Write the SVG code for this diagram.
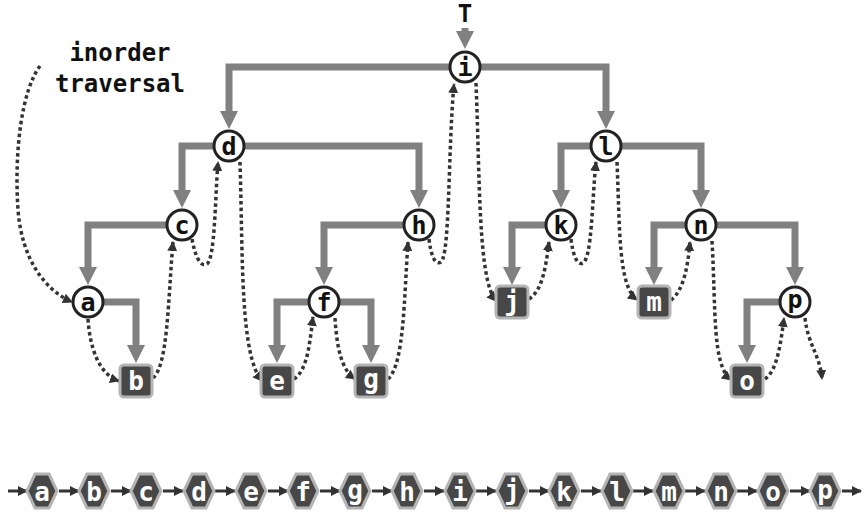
<svg xmlns="http://www.w3.org/2000/svg" width="868" height="513" viewBox="0 0 868 513">
<style>
.edge{fill:none;stroke:#808080;stroke-width:7;marker-end:url(#ah)}
.dot{fill:none;stroke:#333;stroke-width:3.5;stroke-dasharray:3.5 3;marker-end:url(#dh)}
.seq{fill:none;stroke:#333;stroke-width:3;marker-end:url(#sh)}
.circ{fill:#fff;stroke:#222;stroke-width:3}
.sq{fill:#474747;stroke:#b4b4b4;stroke-width:3}
.hex{fill:#474747;stroke:#b4b4b4;stroke-width:3}
.lc{font-family:"DejaVu Sans Mono",monospace;font-weight:bold;font-size:25px;fill:#111;text-anchor:middle}
.lw{font-family:"DejaVu Sans Mono",monospace;font-weight:bold;font-size:26px;fill:#fff;text-anchor:middle}
.lt{font-family:"DejaVu Sans Mono",monospace;font-weight:bold;font-size:24px;fill:#111;text-anchor:middle}
</style>
<defs>
<marker id="ah" markerUnits="userSpaceOnUse" viewBox="0 0 18 18" markerWidth="18" markerHeight="18" refX="1" refY="9" orient="auto"><path d="M0,0 L18,9 L0,18 z" fill="#808080"/></marker>
<marker id="dh" markerUnits="userSpaceOnUse" viewBox="0 0 10 10" markerWidth="10" markerHeight="10" refX="9" refY="5" orient="auto"><path d="M0,0 L10,5 L0,10 z" fill="#333"/></marker>
<marker id="sh" markerUnits="userSpaceOnUse" viewBox="0 0 10 10" markerWidth="10" markerHeight="10" refX="9" refY="5" orient="auto"><path d="M0,0 L10,5 L0,10 z" fill="#333"/></marker>
<polygon id="hx" points="-7,-17 7,-17 15,0 7,17 -7,17 -15,0"/>
</defs>
<rect width="868" height="513" fill="#fff"/>
<g id="labels">
<text class="lt" x="465" y="22">T</text>
<text class="lt" x="120" y="61">inorder</text>
<text class="lt" x="120" y="92">traversal</text>
</g>
<g id="connectors">
<path class="edge" d="M465,28 V32"/>
<path class="edge" d="M465,67 H229 V112"/>
<path class="edge" d="M465,67 H606 V112"/>
<path class="edge" d="M229,146 H182 V191"/>
<path class="edge" d="M229,146 H419 V191"/>
<path class="edge" d="M182,225 H88 V268"/>
<path class="edge" d="M88,302 H136 V346"/>
<path class="edge" d="M419,225 H324 V268"/>
<path class="edge" d="M324,302 H277 V346"/>
<path class="edge" d="M324,302 H371 V346"/>
<path class="edge" d="M606,146 H561 V191"/>
<path class="edge" d="M606,146 H701 V191"/>
<path class="edge" d="M561,225 H512 V268"/>
<path class="edge" d="M701,225 H654 V268"/>
<path class="edge" d="M701,225 H795 V268"/>
<path class="edge" d="M795,302 H747 V346"/>
<path class="dot" d="M40,66 C22,90 14,150 18,210 C22,260 45,290 72,302"/>
<path class="dot" d="M88,319 C90,350 100,375 119,381"/>
<path class="dot" d="M153,378 C168,365 168,300 173,242"/>
<path class="dot" d="M192,239 C195,255 200,268 207,264 C215,258 215,200 218,162"/>
<path class="dot" d="M240,162 C243,260 240,355 262,381"/>
<path class="dot" d="M294,379 C308,370 310,340 313,317"/>
<path class="dot" d="M335,318 C337,350 342,370 355,379"/>
<path class="dot" d="M388,379 C404,365 404,300 408,242"/>
<path class="dot" d="M429,239 C431,255 435,266 441,262 C450,255 448,150 454,84"/>
<path class="dot" d="M476,83 C480,180 478,280 496,301"/>
<path class="dot" d="M529,299 C543,290 546,265 549,242"/>
<path class="dot" d="M571,239 C573,255 577,266 583,263 C592,258 592,200 596,162"/>
<path class="dot" d="M617,162 C620,230 618,285 637,300"/>
<path class="dot" d="M671,300 C684,290 688,265 690,242"/>
<path class="dot" d="M712,241 C716,310 712,365 731,380"/>
<path class="dot" d="M765,379 C778,370 781,340 784,318"/>
<path class="dot" d="M805,318 C808,345 820,355 822,379"/>
<path class="seq" d="M8,491 H27"/>
<path class="seq" d="M59,491 H79"/>
<path class="seq" d="M111,491 H131"/>
<path class="seq" d="M163,491 H183"/>
<path class="seq" d="M215,491 H235"/>
<path class="seq" d="M268,491 H288"/>
<path class="seq" d="M320,491 H340"/>
<path class="seq" d="M372,491 H392"/>
<path class="seq" d="M424,491 H444"/>
<path class="seq" d="M476,491 H496"/>
<path class="seq" d="M529,491 H549"/>
<path class="seq" d="M581,491 H601"/>
<path class="seq" d="M633,491 H653"/>
<path class="seq" d="M685,491 H705"/>
<path class="seq" d="M737,491 H757"/>
<path class="seq" d="M790,491 H810"/>
<path class="seq" d="M842,491 H861"/>
</g>
<g id="node-i"><circle class="circ" cx="465" cy="67" r="15"/><text class="lc" x="465" y="76">i</text></g>
<g id="node-d"><circle class="circ" cx="229" cy="146" r="15"/><text class="lc" x="229" y="155">d</text></g>
<g id="node-l"><circle class="circ" cx="606" cy="146" r="15"/><text class="lc" x="606" y="155">l</text></g>
<g id="node-c"><circle class="circ" cx="182" cy="225" r="15"/><text class="lc" x="182" y="234">c</text></g>
<g id="node-h"><circle class="circ" cx="419" cy="225" r="15"/><text class="lc" x="419" y="234">h</text></g>
<g id="node-k"><circle class="circ" cx="561" cy="225" r="15"/><text class="lc" x="561" y="234">k</text></g>
<g id="node-n"><circle class="circ" cx="701" cy="225" r="15"/><text class="lc" x="701" y="234">n</text></g>
<g id="node-a"><circle class="circ" cx="88" cy="302" r="15"/><text class="lc" x="88" y="311">a</text></g>
<g id="node-f"><circle class="circ" cx="324" cy="302" r="15"/><text class="lc" x="324" y="311">f</text></g>
<g id="node-p"><circle class="circ" cx="795" cy="302" r="15"/><text class="lc" x="795" y="308">p</text></g>
<g id="node-j"><rect class="sq" x="496" y="286" width="32" height="32" rx="4"/><text class="lw" x="512" y="310">j</text></g>
<g id="node-m"><rect class="sq" x="638" y="286" width="32" height="32" rx="4"/><text class="lw" x="654" y="311">m</text></g>
<g id="node-b"><rect class="sq" x="120" y="365" width="32" height="32" rx="4"/><text class="lw" x="136" y="390">b</text></g>
<g id="node-e"><rect class="sq" x="261" y="365" width="32" height="32" rx="4"/><text class="lw" x="277" y="390">e</text></g>
<g id="node-g"><rect class="sq" x="355" y="365" width="32" height="32" rx="4"/><text class="lw" x="371" y="388">g</text></g>
<g id="node-o"><rect class="sq" x="731" y="365" width="32" height="32" rx="4"/><text class="lw" x="747" y="390">o</text></g>
<g id="seq-a"><use href="#hx" class="hex" x="42" y="491"/><text class="lw" x="42" y="501">a</text></g>
<g id="seq-b"><use href="#hx" class="hex" x="94" y="491"/><text class="lw" x="94" y="501">b</text></g>
<g id="seq-c"><use href="#hx" class="hex" x="146" y="491"/><text class="lw" x="146" y="501">c</text></g>
<g id="seq-d"><use href="#hx" class="hex" x="199" y="491"/><text class="lw" x="199" y="501">d</text></g>
<g id="seq-e"><use href="#hx" class="hex" x="251" y="491"/><text class="lw" x="251" y="501">e</text></g>
<g id="seq-f"><use href="#hx" class="hex" x="303" y="491"/><text class="lw" x="303" y="501">f</text></g>
<g id="seq-g"><use href="#hx" class="hex" x="355" y="491"/><text class="lw" x="355" y="499">g</text></g>
<g id="seq-h"><use href="#hx" class="hex" x="407" y="491"/><text class="lw" x="407" y="501">h</text></g>
<g id="seq-i"><use href="#hx" class="hex" x="460" y="491"/><text class="lw" x="460" y="501">i</text></g>
<g id="seq-j"><use href="#hx" class="hex" x="512" y="491"/><text class="lw" x="512" y="499">j</text></g>
<g id="seq-k"><use href="#hx" class="hex" x="564" y="491"/><text class="lw" x="564" y="501">k</text></g>
<g id="seq-l"><use href="#hx" class="hex" x="617" y="491"/><text class="lw" x="617" y="501">l</text></g>
<g id="seq-m"><use href="#hx" class="hex" x="669" y="491"/><text class="lw" x="669" y="501">m</text></g>
<g id="seq-n"><use href="#hx" class="hex" x="721" y="491"/><text class="lw" x="721" y="501">n</text></g>
<g id="seq-o"><use href="#hx" class="hex" x="773" y="491"/><text class="lw" x="773" y="501">o</text></g>
<g id="seq-p"><use href="#hx" class="hex" x="825" y="491"/><text class="lw" x="825" y="499">p</text></g>
</svg>
